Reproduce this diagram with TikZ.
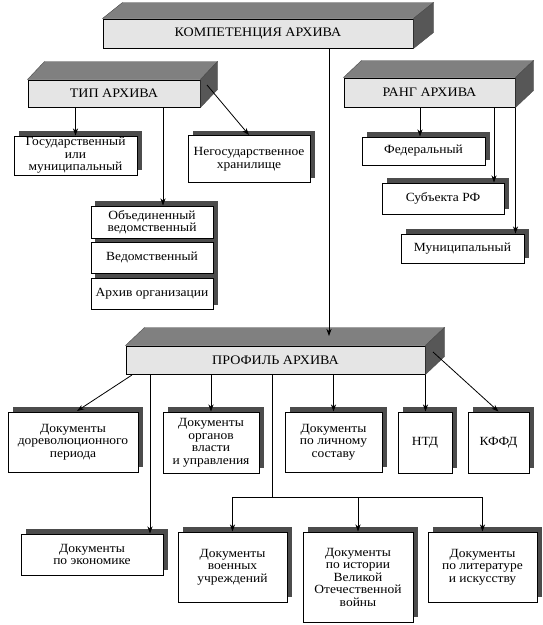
\documentclass[tikz,border=0pt]{standalone}
\usepackage{fontspec}
\setmainfont{Liberation Serif}[FakeStretch=1.08]
\usetikzlibrary{arrows.meta,calc,shadows}
\definecolor{facefront}{gray}{0.9}
\definecolor{facetop}{gray}{0.5}
\definecolor{faceside}{gray}{0.34}
\definecolor{shadowc}{gray}{0.3}
\newcommand\cubefaces[3]{%
  \filldraw[facetop,draw=black!70,line width=0.4pt] (#1.north west) -- ++(#2,-#3) -- ($(#1.north east)+(#2,-#3)$) -- (#1.north east) -- cycle;
  \filldraw[faceside,draw=black!70,line width=0.4pt] (#1.north east) -- ++(#2,-#3) -- ($(#1.south east)+(#2,-#3)$) -- (#1.south east) -- cycle;
}
\begin{document}
\begin{tikzpicture}[x=1pt,y=-1pt,
  front/.style={draw=black,line width=1pt,fill=facefront,inner sep=1pt,font=\fontsize{13}{13}\selectfont},
  box/.style={draw=black,line width=1pt,fill=white,align=center,inner sep=1pt,font=\fontsize{12.5}{12.5}\selectfont},
  shbox/.style={box,drop shadow={shadow xshift=5pt,shadow yshift=5pt,opacity=1,fill=shadowc}},
  arr/.style={-{Stealth[length=7pt,width=5pt,inset=2pt]},line width=0.8pt},
  conn/.style={line width=0.8pt}]
\useasboundingbox (0,0) rectangle (543,625);

% header boxes
\node[front,minimum width=310pt,minimum height=29pt] (comp) at (258,33.5) {КОМПЕТЕНЦИЯ АРХИВА};
\cubefaces{comp}{20}{16}
\node[front,minimum width=172pt,minimum height=27pt] (tip) at (114,93.5) {ТИП АРХИВА};
\cubefaces{tip}{17}{18}
\node[front,minimum width=171pt,minimum height=29pt] (rang) at (429.5,92.5) {РАНГ АРХИВА};
\cubefaces{rang}{18}{17}
\node[front,minimum width=299pt,minimum height=28pt] (prof) at (275.5,360) {ПРОФИЛЬ АРХИВА};
\cubefaces{prof}{19}{18}

% type boxes
\node[shbox,minimum width=123pt,minimum height=39pt] (gos) at (75.5,155.5) {Государственный\\или\\муниципальный};
\node[shbox,minimum width=122pt,minimum height=47pt] (neg) at (249,159) {Негосударственное\\хранилище};
\fill[shadowc] (95,201) rectangle (218,305);
\node[box,minimum width=122pt,minimum height=32pt] (ob1) at (152,222) {Объединенный\\ведомственный};
\node[box,minimum width=122pt,minimum height=31pt] (ob2) at (152,257.5) {Ведомственный};
\node[box,minimum width=122pt,minimum height=31pt] (ob3) at (152,293.5) {Архив организации};

% rank boxes
\node[shbox,minimum width=123pt,minimum height=28pt] (fed) at (423.5,151) {Федеральный};
\node[shbox,minimum width=122pt,minimum height=31pt] (sub) at (443,198.5) {Субъекта РФ};
\node[shbox,minimum width=123pt,minimum height=29pt] (mun) at (462.5,248.5) {Муниципальный};

% profile boxes
\node[shbox,minimum width=130pt,minimum height=60pt] (d1) at (73,442) {Документы\\дореволюционного\\периода};
\node[shbox,minimum width=96pt,minimum height=61pt] (d2) at (211,442.5) {Документы\\органов\\власти\\и управления};
\node[shbox,minimum width=97pt,minimum height=60pt] (d3) at (333.5,442) {Документы\\по личному\\составу};
\node[shbox,minimum width=54pt,minimum height=61pt] (ntd) at (425,442.5) {НТД};
\node[shbox,minimum width=61pt,minimum height=61pt] (kffd) at (498.5,442.5) {КФФД};
\node[shbox,minimum width=142pt,minimum height=41pt] (ek) at (92,554.5) {Документы\\по экономике};
\node[shbox,minimum width=109pt,minimum height=70pt] (voen) at (232.5,567) {Документы\\военных\\учреждений};
\node[shbox,minimum width=110pt,minimum height=90pt] (vov) at (358,577) {Документы\\по истории\\Великой\\Отечественной\\войны};
\node[shbox,minimum width=109pt,minimum height=70pt] (lit) at (482.5,567) {Документы\\по литературе\\и искусству};

% helper coordinates
\coordinate (c329) at (329,336);
\coordinate (x163) at (163,0);
\coordinate (tipside) at (207,85);
\coordinate (x420) at (420,0);
\coordinate (x494) at (494,0);
\coordinate (profsw) at (132,375);
\coordinate (d1tip) at (77,411);
\coordinate (x150) at (150,0);
\coordinate (profside) at (433,352);
\coordinate (br) at (272,497);

% connectors
\draw[arr] (comp.south -| c329) -- (c329);
\draw[arr] (tip.south -| gos.north) -- (gos.north);
\draw[arr] (tip.south -| x163) -- (ob1.north -| x163);
\draw[arr] (tipside) -- (neg.north);
\draw[arr] (rang.south -| x420) -- (fed.north -| x420);
\draw[arr] (rang.south -| x494) -- (sub.north -| x494);
\draw[arr] (rang.south east) -- (rang.south east |- mun.north);
\draw[arr] (profsw) -- (d1tip);
\draw[arr] (prof.south -| x150) -- (ek.north -| x150);
\draw[arr] (prof.south -| d2.north) -- (d2.north);
\draw[arr] (prof.south -| d3.north) -- (d3.north);
\draw[arr] (prof.south east) -- (prof.south east |- ntd.north);
\draw[arr] (profside) -- (kffd.north);
\draw[conn] (prof.south -| br) -- (br);
\draw[conn] (voen.north |- br) -- (lit.north |- br);
\draw[arr] (voen.north |- br) -- (voen.north);
\draw[arr] (vov.north |- br) -- (vov.north);
\draw[arr] (lit.north |- br) -- (lit.north);
\end{tikzpicture}
\end{document}
